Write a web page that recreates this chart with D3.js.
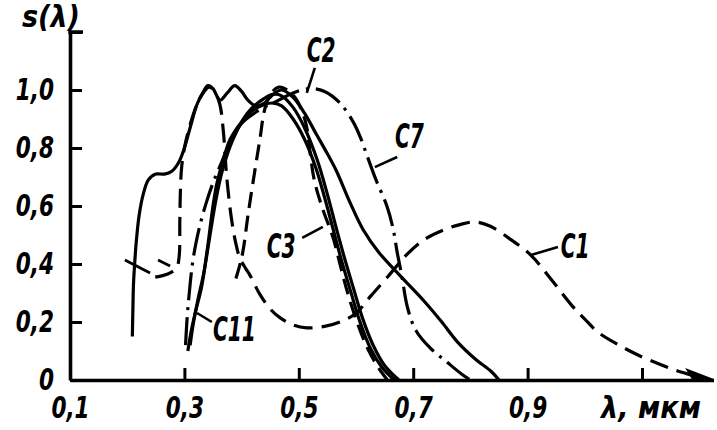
<!DOCTYPE html>
<html>
<head>
<meta charset="utf-8">
<script src="https://cdn.jsdelivr.net/npm/d3@7"></script>
<style>
  body { margin: 0; background: #fff; }
  svg text { font-family: "DejaVu Sans Condensed", "DejaVu Sans", sans-serif; font-style: italic; font-weight: bold; fill: #000; }
</style>
</head>
<body>
<svg id="mainsvg" width="717" height="430"></svg>
<script>
// spectral curves, [wavelength in um, relative sensitivity]
const plateau = [[0.209,0.15],[0.21,0.25],[0.211,0.33],[0.213,0.4],[0.216,0.48],[0.221,0.57],[0.228,0.64],[0.237,0.69],
  [0.25,0.71],[0.265,0.71],[0.278,0.72],[0.29,0.75],[0.3,0.8],[0.31,0.87],[0.322,0.95],[0.332,0.99],[0.341,1.015],
  [0.35,1.005],[0.362,0.965],[0.375,0.99],[0.388,1.015],[0.4,0.995],[0.411,0.965],[0.425,0.945],[0.44,0.955],
  [0.455,0.985],[0.47,1.0],[0.49,0.975],[0.51,0.92],[0.53,0.85],[0.55,0.78],[0.566,0.72],[0.59,0.61],[0.612,0.52],
  [0.64,0.44],[0.677,0.36],[0.72,0.27],[0.75,0.2],[0.778,0.13],[0.81,0.07],[0.836,0.03],[0.85,0.0]];
const c1 = [[0.249,0.355],[0.262,0.36],[0.276,0.37],[0.287,0.39],[0.291,0.43],[0.292,0.55],[0.293,0.65],[0.295,0.73],
  [0.3,0.8],[0.31,0.88],[0.322,0.95],[0.333,0.99],[0.343,1.01],[0.353,0.995],[0.362,0.95],[0.368,0.86],[0.374,0.7],
  [0.382,0.56],[0.39,0.47],[0.397,0.42],[0.407,0.385],[0.415,0.36],[0.432,0.295],[0.45,0.245],[0.467,0.215],
  [0.49,0.19],[0.514,0.18],[0.545,0.185],[0.572,0.2],[0.6,0.23],[0.626,0.29],[0.655,0.355],[0.69,0.435],[0.72,0.485],
  [0.75,0.515],[0.78,0.535],[0.808,0.545],[0.835,0.53],[0.87,0.485],[0.906,0.43],[0.94,0.35],[0.976,0.26],[1.0,0.21],
  [1.023,0.165],[1.06,0.12],[1.093,0.086],[1.13,0.055],[1.158,0.034],[1.19,0.015],[1.215,0.0]];
const c2 = [[0.39,0.35],[0.396,0.39],[0.402,0.44],[0.412,0.58],[0.423,0.72],[0.432,0.83],[0.44,0.93],[0.45,0.985],
  [0.465,1.01],[0.48,1.0],[0.495,0.97],[0.507,0.92],[0.514,0.87],[0.52,0.78],[0.527,0.69],[0.54,0.6],[0.56,0.49],
  [0.572,0.4],[0.584,0.31],[0.6,0.21],[0.62,0.11],[0.64,0.04],[0.655,0.0]];
const c3 = [[0.31,0.12],[0.316,0.2],[0.324,0.28],[0.334,0.37],[0.344,0.49],[0.355,0.62],[0.366,0.72],[0.385,0.83],
  [0.41,0.92],[0.435,0.965],[0.455,0.985],[0.47,0.98],[0.49,0.94],[0.51,0.87],[0.532,0.76],[0.55,0.64],[0.566,0.52],
  [0.58,0.42],[0.595,0.32],[0.612,0.21],[0.63,0.12],[0.65,0.05],[0.675,0.0]];
const c7 = [[0.302,0.12],[0.305,0.22],[0.309,0.31],[0.314,0.4],[0.32,0.47],[0.328,0.54],[0.338,0.61],[0.35,0.68],
  [0.365,0.75],[0.38,0.82],[0.4,0.885],[0.43,0.93],[0.46,0.96],[0.49,0.99],[0.52,1.005],[0.545,0.995],[0.572,0.955],
  [0.595,0.89],[0.607,0.84],[0.62,0.77],[0.635,0.69],[0.654,0.6],[0.665,0.52],[0.672,0.44],[0.68,0.36],[0.69,0.25],
  [0.705,0.17],[0.73,0.11],[0.76,0.06],[0.785,0.02],[0.8,0.0]];
const c11 = [[0.306,0.1],[0.312,0.17],[0.32,0.24],[0.33,0.32],[0.34,0.45],[0.35,0.6],[0.357,0.68],[0.368,0.76],
  [0.38,0.83],[0.4,0.89],[0.42,0.93],[0.44,0.95],[0.455,0.955],[0.47,0.945],[0.49,0.9],[0.51,0.83],[0.53,0.73],
  [0.545,0.63],[0.56,0.52],[0.575,0.41],[0.59,0.31],[0.607,0.2],[0.625,0.11],[0.645,0.045],[0.667,0.0]];

const xTicks = [0.1, 0.3, 0.5, 0.7, 0.9, 1.1];
const xTickLabels = ['0,1', '0,3', '0,5', '0,7', '0,9', ''];
const yTicks = [0, 0.2, 0.4, 0.6, 0.8, 1.0, 1.2];
const yTickLabels = ['0', '0,2', '0,4', '0,6', '0,8', '1,0', ''];

// curve names with pointer: text anchor point and pointer line, in data units
const curveLabels = [
  {name: 'C2',  at: [0.514, 1.097], from: [0.528, 1.076], to: [0.514, 0.99]},
  {name: 'C7',  at: [0.668, 0.80],  from: [0.672, 0.769], to: [0.633, 0.734]},
  {name: 'C3',  at: [0.444, 0.421], from: [0.506, 0.49],  to: [0.542, 0.528]},
  {name: 'C11', at: [0.35, 0.134],  from: [0.348, 0.2],   to: [0.322, 0.231]},
  {name: 'C1',  at: [0.958, 0.421], from: [0.953, 0.459], to: [0.906, 0.431]}
];
// small crossing strokes drawn on the curves
const crossMarks = [
  [[0.196, 0.414], [0.24, 0.369]],
  [[0.254, 0.414], [0.275, 0.393]]
];

const svg = d3.select('#mainsvg');

const x = d3.scaleLinear().domain([0.1, 1.225]).range([70, 713.5]);
const y = d3.scaleLinear().domain([0, 1.2]).range([380, 32]);

function condense(sel, k) {
  sel.each(function() {
    const w = this.getComputedTextLength();
    if (w > 0) d3.select(this).attr('textLength', w * k).attr('lengthAdjust', 'spacingAndGlyphs');
  });
}

const series = [
  {pts: plateau, dash: null},
  {pts: c11, dash: null},
  {pts: c3, dash: null},
  {pts: c7, dash: '28,7,3,7'},
  {pts: c2, dash: '16,8'},
  {pts: c1, dash: '19,9'}
];

const line = d3.line()
  .x(d => x(d[0]))
  .y(d => y(d[1]))
  .curve(d3.curveCatmullRom.alpha(0.5));

const curves = svg.append('g');
series.forEach(s => {
  curves.append('path')
    .attr('d', line(s.pts))
    .attr('fill', 'none')
    .attr('stroke', '#000')
    .attr('stroke-width', 3.2)
    .attr('stroke-dasharray', s.dash);
});

crossMarks.forEach(m => {
  svg.append('line')
    .attr('x1', x(m[0][0])).attr('y1', y(m[0][1]))
    .attr('x2', x(m[1][0])).attr('y2', y(m[1][1]))
    .attr('stroke', '#000').attr('stroke-width', 2.8);
});

// axes
const xAxis = d3.axisBottom(x).tickValues(xTicks)
  .tickFormat((d, i) => xTickLabels[i])
  .tickSize(-12).tickSizeOuter(0).tickPadding(17);
const yAxis = d3.axisLeft(y).tickValues(yTicks)
  .tickFormat((d, i) => yTickLabels[i])
  .tickSize(-12).tickSizeOuter(0).tickPadding(16);

const gx = svg.append('g').attr('transform', 'translate(0,380)').call(xAxis);
const gy = svg.append('g').attr('transform', 'translate(70,0)').call(yAxis);

[gx, gy].forEach(g => {
  g.select('.domain').attr('stroke', '#000').attr('stroke-width', 3.6);
  g.selectAll('.tick line').attr('stroke', '#000').attr('stroke-width', 3);
  g.selectAll('.tick text').attr('font-size', 30).attr('font-family', null).attr('fill', '#000');
  condense(g.selectAll('.tick text'), 0.8);
});

// hook at the top of the s axis
svg.append('path')
  .attr('d', `M${x(0.1)},${y(1.2) + 2} L${x(0.1)},${y(1.2)} L${x(0.1) + 13},${y(1.2)}`)
  .attr('fill', 'none').attr('stroke', '#000').attr('stroke-width', 3.4);

// arrow head at the end of the wavelength axis
svg.append('path')
  .attr('d', `M${x(1.225)},380 L${x(1.225) - 26},370 L${x(1.225) - 20},380 Z`)
  .attr('fill', '#000').attr('stroke', '#000').attr('stroke-width', 2);

svg.append('text')
  .attr('x', x(1.1) - 41).attr('y', 418)
  .attr('font-size', 31)
  .text('λ, мкм')
  .attr('textLength', 100).attr('lengthAdjust', 'spacingAndGlyphs');

svg.append('text')
  .attr('x', 22).attr('y', 27)
  .attr('font-size', 30)
  .text('s(λ)')
  .attr('textLength', 58).attr('lengthAdjust', 'spacingAndGlyphs');

curveLabels.forEach(l => {
  svg.append('line')
    .attr('x1', x(l.from[0])).attr('y1', y(l.from[1]))
    .attr('x2', x(l.to[0])).attr('y2', y(l.to[1]))
    .attr('stroke', '#000').attr('stroke-width', 2.6);
  svg.append('text')
    .attr('x', x(l.at[0])).attr('y', y(l.at[1]))
    .attr('font-size', 33)
    .text(l.name)
    .call(condense, 0.68);
});
</script>
</body>
</html>
